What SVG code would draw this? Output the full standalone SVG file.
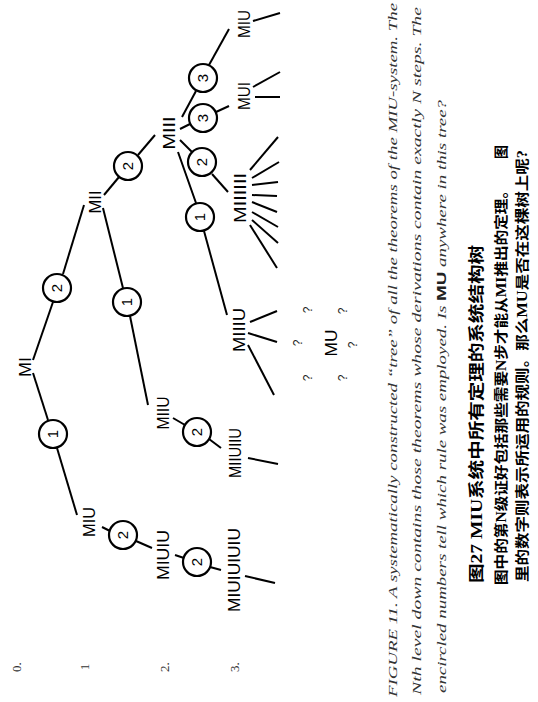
<svg xmlns="http://www.w3.org/2000/svg" width="538" height="702" viewBox="0 0 538 702">
<style>
.bg{fill:#fff}
.lbl{font-family:"Liberation Sans",Arial,sans-serif;font-size:16px;fill:#000;text-anchor:middle}
.num{font-family:"Liberation Sans",Arial,sans-serif;font-size:15px;fill:#000;text-anchor:middle}
.rule circle{fill:#fff;stroke:#000;stroke-width:2.2}
#connectors line{stroke:#000;stroke-width:2;stroke-linecap:butt}
.q{font-family:"Liberation Sans",Arial,sans-serif;font-size:12px;fill:#222;text-anchor:middle}
.lvl{font-family:"Liberation Serif",serif;font-size:13px;fill:#333;text-anchor:middle}
.en{font-family:"Liberation Serif",serif;font-style:italic;font-size:13px;fill:#333}
.enmu{font-family:"Liberation Sans",sans-serif;font-style:normal;font-weight:bold;fill:#222}
.zh{font-family:"Liberation Serif","Noto Sans CJK SC",serif;font-weight:bold;fill:#000;dominant-baseline:central}
</style>
<rect class="bg" x="0" y="0" width="538" height="702"/>

<g id="connectors">
  <line x1="33" y1="360" x2="53" y2="302"/>
  <line x1="63" y1="274" x2="84" y2="205"/>
  <line x1="33" y1="373" x2="48" y2="420"/>
  <line x1="57" y1="448" x2="77" y2="515"/>
  <line x1="103" y1="208" x2="123" y2="288"/>
  <line x1="130" y1="316" x2="148" y2="405"/>
  <line x1="104" y1="195" x2="119" y2="177"/>
  <line x1="138" y1="155" x2="155" y2="135"/>
  <line x1="182" y1="117" x2="196" y2="91"/>
  <line x1="209" y1="65" x2="229" y2="29"/>
  <line x1="180" y1="129" x2="190" y2="124"/>
  <line x1="216" y1="112" x2="229" y2="106"/>
  <line x1="180" y1="140" x2="192" y2="152"/>
  <line x1="212" y1="174" x2="228" y2="192"/>
  <line x1="178" y1="152" x2="196" y2="203"/>
  <line x1="204" y1="231" x2="227" y2="315"/>
  <line x1="102" y1="527" x2="110" y2="531"/>
  <line x1="136" y1="541" x2="152" y2="548"/>
  <line x1="175" y1="555" x2="184" y2="558"/>
  <line x1="210" y1="567" x2="221" y2="570"/>
  <line x1="173" y1="418" x2="185" y2="425"/>
  <line x1="209" y1="439" x2="221" y2="448"/>
  <line x1="253" y1="21" x2="280" y2="13"/>
  <line x1="253" y1="87" x2="280" y2="72"/>
  <line x1="255" y1="97" x2="280" y2="97"/>
  <line x1="250" y1="170" x2="278" y2="137"/>
  <line x1="252" y1="178" x2="279" y2="162"/>
  <line x1="252" y1="185" x2="278" y2="182"/>
  <line x1="252" y1="195" x2="277" y2="196"/>
  <line x1="252" y1="202" x2="277" y2="212"/>
  <line x1="252" y1="212" x2="278" y2="227"/>
  <line x1="252" y1="220" x2="278" y2="243"/>
  <line x1="250" y1="225" x2="277" y2="268"/>
  <line x1="250" y1="322" x2="277" y2="311"/>
  <line x1="248" y1="333" x2="277" y2="342"/>
  <line x1="248" y1="345" x2="274" y2="395"/>
  <line x1="248" y1="458" x2="278" y2="464"/>
  <line x1="245" y1="576" x2="275" y2="583"/>
</g>

<g id="n-MI"><text class="lbl" transform="translate(25,367) rotate(-90)" dy="0.36em" textLength="20" lengthAdjust="spacingAndGlyphs">MI</text></g>
<g id="n-MIU1"><text class="lbl" transform="translate(89,522) rotate(-90)" dy="0.36em" textLength="30" lengthAdjust="spacingAndGlyphs">MIU</text></g>
<g id="n-MII"><text class="lbl" transform="translate(95,202) rotate(-90)" dy="0.36em" textLength="23" lengthAdjust="spacingAndGlyphs">MII</text></g>
<g id="n-MIIU"><text class="lbl" transform="translate(163,413) rotate(-90)" dy="0.36em" textLength="33" lengthAdjust="spacingAndGlyphs">MIIU</text></g>
<g id="n-MIUIU"><text class="lbl" transform="translate(163,555) rotate(-90)" dy="0.36em" textLength="50" lengthAdjust="spacingAndGlyphs">MIUIU</text></g>
<g id="n-MIII"><text class="lbl" transform="translate(169,133) rotate(-90)" dy="0.36em" textLength="33" lengthAdjust="spacingAndGlyphs">MIII</text></g>
<g id="n-MIIUIIU"><text class="lbl" transform="translate(235,453) rotate(-90)" dy="0.36em" textLength="50" lengthAdjust="spacingAndGlyphs">MIIUIIU</text></g>
<g id="n-MIUIUIUIU"><text class="lbl" transform="translate(234,570) rotate(-90)" dy="0.36em" textLength="84" lengthAdjust="spacingAndGlyphs">MIUIUIUIU</text></g>
<g id="n-MIU3"><text class="lbl" transform="translate(244,24) rotate(-90)" dy="0.36em" textLength="28" lengthAdjust="spacingAndGlyphs">MIU</text></g>
<g id="n-MUI"><text class="lbl" transform="translate(244,96) rotate(-90)" dy="0.36em" textLength="28" lengthAdjust="spacingAndGlyphs">MUI</text></g>
<g id="n-MIIIIII"><text class="lbl" transform="translate(240,198) rotate(-90)" dy="0.36em" textLength="50" lengthAdjust="spacingAndGlyphs">MIIIIII</text></g>
<g id="n-MIIIU"><text class="lbl" transform="translate(239,330) rotate(-90)" dy="0.36em" textLength="44" lengthAdjust="spacingAndGlyphs">MIIIU</text></g>
<g id="n-MU"><text class="lbl" transform="translate(331,343) rotate(-90)" dy="0.36em" textLength="27" lengthAdjust="spacingAndGlyphs">MU</text></g>

<g id="r-MI-MIU" class="rule"><circle cx="53" cy="434" r="14"/><text class="num" transform="translate(53,434) rotate(-90)" dy="0.36em">1</text></g>
<g id="r-MI-MII" class="rule"><circle cx="57" cy="288" r="14"/><text class="num" transform="translate(57,288) rotate(-90)" dy="0.36em">2</text></g>
<g id="r-MII-MIIU" class="rule"><circle cx="127" cy="302" r="14"/><text class="num" transform="translate(127,302) rotate(-90)" dy="0.36em">1</text></g>
<g id="r-MII-MIII" class="rule"><circle cx="128" cy="166" r="14"/><text class="num" transform="translate(128,166) rotate(-90)" dy="0.36em">2</text></g>
<g id="r-MIU-MIUIU" class="rule"><circle cx="123" cy="535" r="14"/><text class="num" transform="translate(123,535) rotate(-90)" dy="0.36em">2</text></g>
<g id="r-MIIU-MIIUIIU" class="rule"><circle cx="197" cy="432" r="14"/><text class="num" transform="translate(197,432) rotate(-90)" dy="0.36em">2</text></g>
<g id="r-MIUIU-MIUIUIUIU" class="rule"><circle cx="197" cy="562" r="14"/><text class="num" transform="translate(197,562) rotate(-90)" dy="0.36em">2</text></g>
<g id="r-MIII-MIIIU" class="rule"><circle cx="200" cy="217" r="14"/><text class="num" transform="translate(200,217) rotate(-90)" dy="0.36em">1</text></g>
<g id="r-MIII-MIIIIII" class="rule"><circle cx="202" cy="162" r="14"/><text class="num" transform="translate(202,162) rotate(-90)" dy="0.36em">2</text></g>
<g id="r-MIII-MUI" class="rule"><circle cx="203" cy="118" r="14"/><text class="num" transform="translate(203,118) rotate(-90)" dy="0.36em">3</text></g>
<g id="r-MIII-MIU" class="rule"><circle cx="203" cy="78" r="14"/><text class="num" transform="translate(203,78) rotate(-90)" dy="0.36em">3</text></g>

<g id="questions">
  <text class="q" transform="translate(308,310) rotate(-90)" dy="0.36em">?</text>
  <text class="q" transform="translate(343,311) rotate(-90)" dy="0.36em">?</text>
  <text class="q" transform="translate(298,343) rotate(-90)" dy="0.36em">?</text>
  <text class="q" transform="translate(353,345) rotate(-90)" dy="0.36em">?</text>
  <text class="q" transform="translate(308,378) rotate(-90)" dy="0.36em">?</text>
  <text class="q" transform="translate(343,378) rotate(-90)" dy="0.36em">?</text>
</g>

<g id="levels">
  <text class="lvl" transform="translate(16,667) rotate(-90)" dy="0.36em">0.</text>
  <text class="lvl" transform="translate(84,667) rotate(-90)" dy="0.36em">1</text>
  <text class="lvl" transform="translate(164,667) rotate(-90)" dy="0.36em">2.</text>
  <text class="lvl" transform="translate(234,667) rotate(-90)" dy="0.36em">3.</text>
</g>

<g id="caption-en">
  <text class="en" transform="translate(397,697) rotate(-90)" textLength="694" lengthAdjust="spacingAndGlyphs">FIGURE 11. A systematically constructed “tree” of all the theorems of the MIU-system. The</text>
  <text class="en" transform="translate(421,695) rotate(-90)" textLength="688" lengthAdjust="spacingAndGlyphs">Nth level down contains those theorems whose derivations contain exactly N steps. The</text>
  <text class="en" transform="translate(446,693) rotate(-90)" textLength="593" lengthAdjust="spacingAndGlyphs">encircled numbers tell which rule was employed. Is <tspan class="enmu">MU</tspan> anywhere in this tree?</text>
</g>

<g id="caption-zh">
  <text class="zh" transform="translate(476,583) rotate(-90)" font-size="16" textLength="338" lengthAdjust="spacingAndGlyphs">图27  MIU系统中所有定理的系统结构树</text>
  <text class="zh" transform="translate(501,585) rotate(-90)" font-size="14" textLength="402" lengthAdjust="spacingAndGlyphs">图中的第N级证好包括那些需要N步才能从MI推出的定理。</text>
  <text class="zh" transform="translate(501,152) rotate(-90)" font-size="14" text-anchor="middle">图</text>
  <text class="zh" transform="translate(522,582) rotate(-90)" font-size="14" textLength="432" lengthAdjust="spacingAndGlyphs">里的数字则表示所运用的规则。那么MU是否在这棵树上呢?</text>
</g>
</svg>
